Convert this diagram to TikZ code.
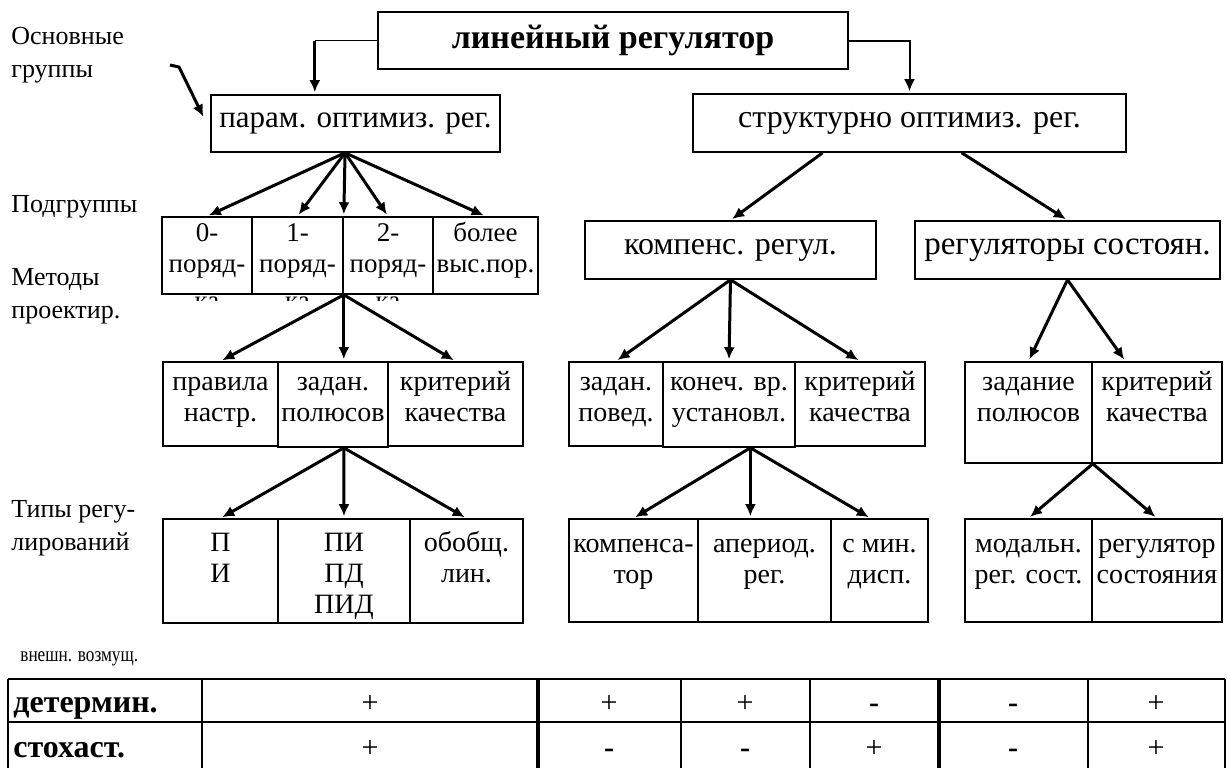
\documentclass[tikz,border=0pt]{standalone}
\usepackage{fontspec}
\usepackage{graphicx}
\setmainfont{Liberation Serif}
\usetikzlibrary{arrows.meta, calc, fit}

\begin{document}
\begin{tikzpicture}[x=0.5pt, y=-0.5pt,
	box/.style={draw, line width=0.8pt, inner sep=0pt},
	head/.style={inner sep=0pt, font=\fontsize{16}{16}\selectfont},
	cell/.style={anchor=north, align=center, inner sep=0pt, font=\fontsize{14}{15.5}\selectfont},
	side/.style={anchor=north west, align=left, inner sep=0pt, font=\fontsize{13}{16.5}\selectfont},
	arr/.style={line width=1.5pt, -{Latex[length=6pt, width=5.5pt]}, shorten >=1pt},
	val/.style={anchor=base, inner sep=0pt, font=\fontsize{15}{15}\selectfont}]
			\useasboundingbox (0,0) rectangle (1227,767);
			
			\node[box, line width=1.2pt, fit={(378,12) (848,69)}] (title) {};
			\node[box, fit={(211,95) (500,152)}] (par) {};
			\node[box, fit={(693,94) (1126,152)}] (str) {};
			\node[box, fit={(585,221) (876,279)}] (komp) {};
			\node[box, fit={(915,221) (1220,279)}] (reg) {};
			\node[head, font=\fontsize{17}{17}\bfseries] (titlet) at (title.center) {линейный регулятор};
			\node[head, font=\fontsize{15.5}{16}\selectfont] (part) at (par.center) {парам. оптимиз. рег.};
			\node[head] (strt) at (str.center) {структурно оптимиз. рег.};
			\node[head] (kompt) at (komp.center) {компенс. регул.};
			\node[head, font=\fontsize{16.5}{16.5}\selectfont] (regt) at (reg.center) {регуляторы состоян.};
			
			\node[box, fit={(162,217) (252,294)}] (s0) {};
			\node[box, fit={(252,217) (343,294)}] (s1) {};
			\node[box, fit={(343,217) (433,294)}] (s2) {};
			\node[box, fit={(433,217) (538,294)}] (s3) {};
			\node[cell, font=\fontsize{13.5}{15.5}\selectfont] (s0t) at ($(s0.north)+(0,3)$) {\strut 0-\\поряд-};
			\node[cell, font=\fontsize{13.5}{15.5}\selectfont] (s1t) at ($(s1.north)+(0,3)$) {\strut 1-\\поряд-};
			\node[cell, font=\fontsize{13.5}{15.5}\selectfont] (s2t) at ($(s2.north)+(0,3)$) {\strut 2-\\поряд-};
			\node[cell, font=\fontsize{13.5}{15.5}\selectfont] (s3t) at ($(s3.north)+(0,3)$) {\strut более\\выс.пор.};
			\begin{scope}
				\clip (s0.south west) rectangle ($(s3.south east)+(0,6)$);
				\foreach \n in {s0,s1,s2}
					\node[cell, font=\fontsize{13.5}{15.5}\selectfont] (ka\n) at ($(\n.south)+(0,2)$) {ка};
			\end{scope}
			
			\node[box, fit={(163,362) (278,446)}] (m0) {};
			\node[box, fit={(278,362) (388,447)}] (m1) {};
			\node[box, fit={(388,362) (523,446)}] (m2) {};
			\node[cell] (m0t) at ($(m0.north)+(0,7)$) {\strut правила\\настр.};
			\node[cell] (m1t) at ($(m1.north)+(0,7)$) {\strut задан.\\полюсов};
			\node[cell] (m2t) at ($(m2.north)+(0,7)$) {\strut критерий\\качества};
			
			\node[box, fit={(569,362) (663,446)}] (k0) {};
			\node[box, fit={(663,362) (795,447)}] (k1) {};
			\node[box, fit={(795,362) (925,446)}] (k2) {};
			\node[cell] (k0t) at ($(k0.north)+(0,7)$) {\strut задан.\\повед.};
			\node[cell] (k1t) at ($(k1.north)+(0,7)$) {\strut конеч. вр.\\установл.};
			\node[cell] (k2t) at ($(k2.north)+(0,7)$) {\strut критерий\\качества};
			
			\node[box, fit={(965,362) (1092,463)}] (r0) {};
			\node[box, fit={(1092,362) (1222,463)}] (r1) {};
			\node[cell] (r0t) at ($(r0.north)+(0,7)$) {\strut задание\\полюсов};
			\node[cell] (r1t) at ($(r1.north)+(0,7)$) {\strut критерий\\качества};
			
			\node[box, fit={(163,519) (278,623)}] (t0) {};
			\node[box, fit={(278,519) (410,623)}] (t1) {};
			\node[box, fit={(410,519) (523,623)}] (t2) {};
			\node[cell] (t0t) at ($(t0.north)+(0,11)$) {\strut П\\И};
			\node[cell] (t1t) at ($(t1.north)+(0,11)$) {\strut ПИ\\ПД\\ПИД};
			\node[cell] (t2t) at ($(t2.north)+(0,11)$) {\strut обобщ.\\лин.};
			
			\node[box, fit={(569,519) (698,622)}] (c0) {};
			\node[box, fit={(698,519) (831,622)}] (c1) {};
			\node[box, fit={(831,519) (928,622)}] (c2) {};
			\node[cell] (c0t) at ($(c0.north)+(0,12)$) {\strut компенса-\\тор};
			\node[cell] (c1t) at ($(c1.north)+(0,12)$) {\strut апериод.\\рег.};
			\node[cell] (c2t) at ($(c2.north)+(0,12)$) {\strut с мин.\\дисп.};
			
			\node[box, fit={(965,519) (1092,622)}] (q0) {};
			\node[box, fit={(1092,519) (1222,622)}] (q1) {};
			\node[cell] (q0t) at ($(q0.north)+(0,12)$) {\strut модальн.\\рег. сост.};
			\node[cell] (q1t) at ($(q1.north)+(0,12)$) {\strut регулятор\\состояния};
			
			\node[side] (grp) at (11,21) {\strut Основные\\группы};
			\node[side] (sub) at (11,189) {\strut Подгруппы};
			\node[side] (meth) at (11,262) {\strut Методы\\проектир.};
			\node[side] (typ) at (11,494) {\strut Типы регу-\\лирований};
			
			\coordinate (ptr) at (170,65);
			\draw[arr] (ptr) -- ++(9,2) -- ($(par.west)+(-6,-5)$);
			
			\coordinate (parin) at ($(par.north west)!0.36!(par.north east)$);
			\draw[line width=0.5pt] (title.west) -- (title.west -| parin);
			\draw[arr] (title.west -| parin) -- (parin);
			\draw[arr, line width=1pt] (title.east) -| (str.north);
			
			\coordinate (parb) at ($(par.south west)!0.464!(par.south east)$);
			\foreach \n in {s0.north, s1.north, s1.north east, s2.north, s3.north}
				\draw[arr] (parb) -- (\n);
			\foreach \n in {m0.north, s1.south east |- m1.north, m2.north}
				\draw[arr] (s1.south east) -- (\n);
			\coordinate (mb) at (s1.south east |- m1.south);
			\foreach \n in {t0,t1,t2}
				\draw[arr] (mb) -- (\n.north);
			
			\draw[arr] ($(str.south west)!0.3!(str.south east)$) -- (komp.north);
			\draw[arr] ($(str.south west)!0.62!(str.south east)$) -- (reg.north);
			\foreach \n in {k0,k1,k2}
				\draw[arr] (komp.south) -- (\n.north);
			\coordinate (kb) at ($(k1.south west)!0.66!(k1.south east)$);
			\draw[arr] (kb) -- (c0.north);
			\draw[arr] (kb) -- (kb |- c1.north);
			\draw[arr] (kb) -- ($(c2.north)+(-9,0)$);
			
			\draw[arr] (reg.south) -- (r0.north);
			\draw[arr] (reg.south) -- ($(r1.north west)!0.26!(r1.north east)$);
			\foreach \n in {q0,q1}
				\draw[arr] (r0.south east) -- (\n.north);
			
			\node[anchor=base west, inner sep=0pt, font=\fontsize{10.5}{10.5}\selectfont] (ext) at (20,661) {\scalebox{0.82}[1]{внешн. возмущ.}};
			
			\draw[line width=1pt] (8,679) -- (1225,679);
			\draw[line width=0.8pt] (8,722) -- (1225,722);
			\foreach \x in {8, 202, 681, 810, 1088, 1225}
				\draw[line width=0.8pt] (\x,679) -- (\x,770);
			\foreach \x in {538, 939}
				\draw[line width=2pt] (\x,679) -- (\x,770);
			\node[anchor=base west, inner sep=0pt, font=\fontsize{16}{16}\bfseries] (det) at (13,712) {детермин.};
			\node[anchor=base west, inner sep=0pt, font=\fontsize{16}{16}\bfseries] (sto) at (13,757) {стохаст.};
			\foreach \x/\a/\b [count=\i] in {370/+/+, 609/+/\textbf{-}, 745/+/\textbf{-}, 874/\textbf{-}/+, 1013/\textbf{-}/\textbf{-}, 1156/+/+} {
				\node[val] (det\i) at (\x,712) {\a};
				\node[val] (sto\i) at (\x,757) {\b};
			}
\end{tikzpicture}
\end{document}
